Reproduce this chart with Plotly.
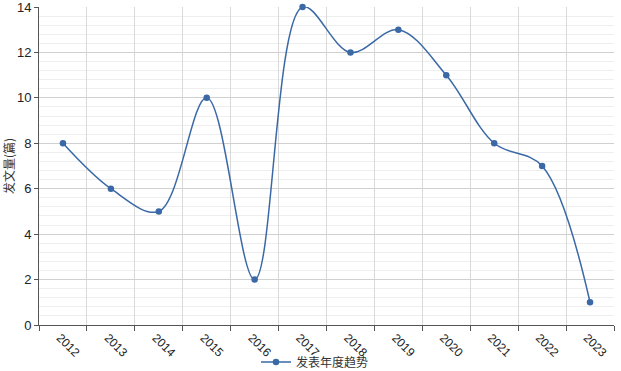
import plotly.graph_objects as go

years = ["2012", "2013", "2014", "2015", "2016", "2017", "2018", "2019", "2020", "2021", "2022", "2023"]
counts = [8, 6, 5, 10, 2, 14, 12, 13, 11, 8, 7, 1]
series_name = "发表年度趋势"
y_title = "发文量(篇)"

color = "#3a69a6"

fig = go.Figure()
fig.add_trace(go.Scatter(
    x=years, y=counts, name=series_name, mode="lines+markers",
    line=dict(color=color, width=1.5, shape="spline", smoothing=1.0),
    marker=dict(color=color, size=6.5),
    showlegend=True,
    cliponaxis=False,
))

fig.update_layout(
    width=621, height=371,
    margin=dict(l=39, r=7, t=7, b=46),
    paper_bgcolor="white", plot_bgcolor="white",
    font=dict(family="Liberation Sans, Arial, sans-serif", size=12, color="#222"),
    showlegend=True,
    legend=dict(orientation="h", xref="container", x=256 / 621, xanchor="left",
                yref="container", y=0.024, yanchor="middle",
                bgcolor="rgba(0,0,0,0)",
                font=dict(family="Noto Sans CJK SC, sans-serif", size=12, color="#333"),
                itemwidth=30),
    xaxis=dict(
        type="category", tickson="boundaries", showgrid=True, gridcolor="#d9d9d9", gridwidth=1,
        ticks="outside", ticklen=5, tickcolor="#555", showline=True, linecolor="#555", linewidth=1,
        tickangle=45, tickfont=dict(size=12, color="#222"), automargin=False,
        ticklabelshift=-3, ticklabeloverflow="allow",
        range=[-0.5, 11.5],
    ),
    yaxis=dict(
        range=[0, 14], dtick=2, showgrid=True, gridcolor="#d0d0d0", gridwidth=1,
        ticks="outside", ticklen=4, tickcolor="#555", showline=True, linecolor="#555", linewidth=1,
        zeroline=False, tickfont=dict(size=13, color="#222"), automargin=False,
        ticklabeloverflow="allow",
        minor=dict(dtick=0.4, showgrid=True, gridcolor="#eeeeee", gridwidth=1),
        title=dict(text=y_title, standoff=12, font=dict(family="Noto Sans CJK SC, serif", size=12, color="#333")),
    ),
)

fig.write_html("out.html", config={"displayModeBar": False})

with open("out.html", "r", encoding="utf-8") as f:
    html = f.read()
html = html.replace("<head>", "<head><style>html,body{margin:0;padding:0;overflow:hidden;}</style>", 1)
with open("out.html", "w", encoding="utf-8") as f:
    f.write(html)
